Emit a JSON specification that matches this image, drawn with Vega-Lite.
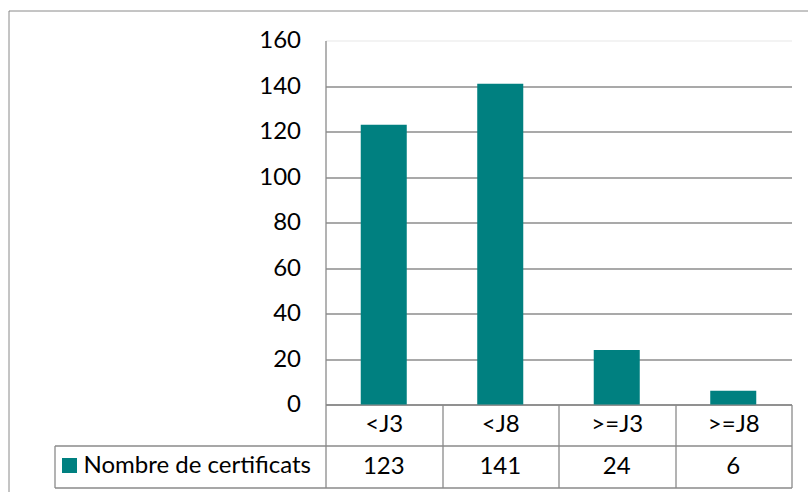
{
  "$schema": "https://vega.github.io/schema/vega-lite/v6.json",
  "autosize": {"type": "none"},
  "width": 799.5,
  "height": 481.5,
  "padding": {"left": 8.5, "top": 10.5, "right": 0, "bottom": 0},
  "background": "white",
  "config": {
    "font": "Lato",
    "view": {"stroke": "#8a8a8a", "strokeWidth": 1, "strokeDash": [799.5, 1281, 481.5]},
    "axis": {"labelFont": "Lato", "labelFontSize": 24, "labelColor": "#000000"}
  },
  "data": {
    "values": [
      {"cat": "<J3", "n": 123, "series": "Nombre de certificats"},
      {"cat": "<J8", "n": 141, "series": "Nombre de certificats"},
      {"cat": ">=J3", "n": 24, "series": "Nombre de certificats"},
      {"cat": ">=J8", "n": 6, "series": "Nombre de certificats"}
    ]
  },
  "layer": [
    {
      "mark": {"type": "bar", "width": {"band": 0.395}},
      "encoding": {
        "x": {
          "field": "cat", "type": "nominal", "sort": null,
          "scale": {"type": "band", "range": [317, 783], "paddingInner": 0, "paddingOuter": 0},
          "axis": {
            "orient": "top", "offset": -394, "title": null,
            "domain": true, "domainColor": "#8a8a8a", "domainWidth": 1.3,
            "ticks": true, "tickBand": "extent", "tickSize": -83, "tickColor": "#8a8a8a", "tickWidth": 1.3,
            "grid": false, "labelAngle": 0, "labelPadding": 63, "labelBaseline": "middle",
            "labelFontSize": 24, "labelColor": "#000000"
          }
        },
        "y": {
          "field": "n", "type": "quantitative",
          "scale": {"domain": [0, 160], "range": [394, 30], "nice": false},
          "axis": {
            "orient": "left", "offset": -317, "title": null,
            "values": [0, 20, 40, 60, 80, 100, 120, 140, 160],
            "grid": true, "gridWidth": 1.4,
            "gridColor": {"condition": {"test": "datum.value === 160", "value": "#efefef"}, "value": "#8c8c8c"},
            "ticks": false, "domain": true, "domainColor": "#8a8a8a", "domainWidth": 1.3,
            "labelPadding": 25, "labelBaseline": "middle", "labelFontSize": 24, "labelColor": "#000000"
          }
        },
        "color": {
          "field": "series", "type": "nominal",
          "scale": {"range": ["#008080"]},
          "legend": {
            "orient": "none", "legendX": 49, "legendY": 443, "title": null,
            "symbolType": "square", "symbolSize": 225, "symbolStrokeWidth": 0,
            "labelFontSize": 24, "labelColor": "#000000", "labelOffset": 2, "labelLimit": 400, "padding": 0
          }
        }
      }
    },
    {
      "mark": {"type": "text", "fontSize": 24, "color": "#000000", "baseline": "middle"},
      "encoding": {
        "x": {"field": "cat", "type": "nominal", "sort": null},
        "y": {
          "field": "series", "type": "nominal",
          "scale": {"type": "band", "range": [435, 477], "paddingInner": 0, "paddingOuter": 0},
          "axis": {
            "orient": "left", "offset": -46, "title": null, "labels": false,
            "domain": true, "domainColor": "#8a8a8a", "domainWidth": 1.3,
            "ticks": true, "tickBand": "extent", "tickSize": -271, "tickColor": "#8a8a8a", "tickWidth": 1.3,
            "grid": true, "gridColor": "#8a8a8a", "gridWidth": 1.3
          }
        },
        "text": {"field": "n", "type": "quantitative"}
      }
    }
  ],
  "resolve": {"scale": {"y": "independent"}, "axis": {"y": "independent"}}
}
